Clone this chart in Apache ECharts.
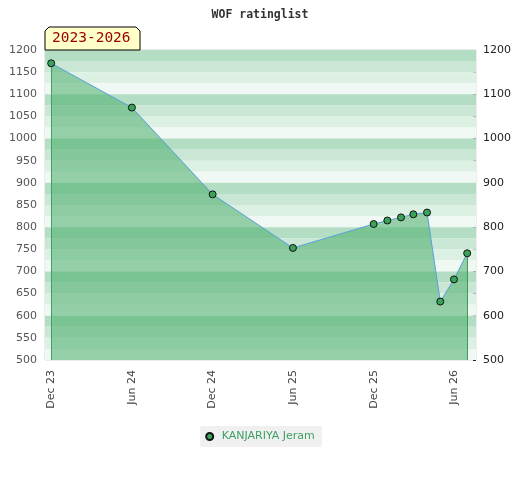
<!DOCTYPE html>
<html>
<head>
<meta charset="utf-8">
<script src="https://cdn.jsdelivr.net/npm/echarts@6/dist/echarts.min.js"></script>
<style>html,body{margin:0;padding:0;background:#fff}#c{width:520px;height:480px}</style>
</head>
<body>
<div id="c"></div>
<script>
// ---- data ----
const seriesName = 'KANJARIYA Jeram';
const dates = ['2023-12-01','2024-06-01','2024-12-01','2025-06-01','2025-12-01','2026-01-01','2026-02-01','2026-03-01','2026-04-01','2026-05-01','2026-06-01','2026-07-01'];
const ratings = [1170, 1070, 874, 753, 807, 815, 822, 829, 833, 632, 682, 741];
const xTickDates = ['2023-12-01','2024-06-01','2024-12-01','2025-06-01','2025-12-01','2026-06-01'];
const xTickLabels = ['Dec 23','Jun 24','Dec 24','Jun 25','Dec 25','Jun 26'];
const xRange = ['2023-11-17','2026-07-21'];
const yMin = 500, yMax = 1200;
const titleText = 'WOF ratinglist';
const periodText = '2023-2026';
const stripeColors = ['#b3dec4','#c9e7d4','#ddf0e4','#eff8f2'];

const ts = s => { const p = s.split('-').map(Number); return Date.UTC(p[0], p[1]-1, p[2]); };
const tickTs = xTickDates.map(ts);
const points = dates.map((d,i) => [ts(d), ratings[i]]);

const stripes = [];
for (let v = yMax, k = 0; v > yMin; v -= 25, k++) {
  stripes.push([{yAxis: v, itemStyle: {color: stripeColors[k % 4], opacity: 1}}, {yAxis: v - 25}]);
}

const chart = echarts.init(document.getElementById('c'), null, {renderer: 'canvas'});
chart.setOption({
  animation: false,
  title: {
    text: titleText, left: 'center', top: 4,
    textStyle: {fontFamily: 'DejaVu Sans Mono', fontWeight: 'bold', fontSize: 11.5, color: '#333'}
  },
  grid: {left: 45, right: 44, top: 50, bottom: 120, show: true, borderColor: '#d8d8d8', borderWidth: 1, backgroundColor: 'transparent'},
  xAxis: {
    type: 'value', min: ts(xRange[0]), max: ts(xRange[1]), scale: true,
    axisLine: {show: false}, axisTick: {show: false}, splitLine: {show: false},
    axisLabel: {
      customValues: tickTs, rotate: 90, color: '#444', fontFamily: 'DejaVu Sans', fontSize: 11, margin: 10,
      formatter: v => { const i = tickTs.indexOf(v); return i >= 0 ? xTickLabels[i] : ''; }
    }
  },
  yAxis: [
    {type: 'value', min: yMin, max: yMax, interval: 50, position: 'left',
     axisLine: {show: false}, axisTick: {show: false}, splitLine: {show: false},
     axisLabel: {color: '#555', fontFamily: 'DejaVu Sans', fontSize: 11, margin: 8, formatter: v => String(v)}},
    {type: 'value', min: yMin, max: yMax, interval: 100, position: 'right',
     axisLine: {show: false}, axisTick: {show: true, inside: true, length: 3, lineStyle: {color: '#222'}},
     minorTick: {show: true, splitNumber: 2, length: 3, lineStyle: {color: '#222'}},
     splitLine: {show: false},
     axisLabel: {color: '#222', fontFamily: 'DejaVu Sans', fontSize: 11, margin: 7, formatter: v => String(v)}}
  ],
  legend: {
    top: 426, left: 'center', data: [seriesName], icon: 'circle', itemWidth: 14, itemHeight: 7, itemGap: 6,
    backgroundColor: '#f0f0f0', padding: [5, 7, 5, 5],
    textStyle: {color: '#3fa065', fontFamily: 'DejaVu Sans', fontSize: 11}
  },
  graphic: [
    {type: 'polygon', z: 100, shape: {points: [[45,50],[45,31],[49,27],[136,27],[140,31],[140,50]]},
     style: {fill: '#ffffc8', stroke: '#000', lineWidth: 1}},
    {type: 'text', z: 101, left: 52, top: 31,
     style: {text: periodText, fill: '#990000', font: '14.5px "DejaVu Sans Mono"'}}
  ],
  series: [
    {type: 'line', data: [], z: 0, silent: true,
     markArea: {silent: true, data: stripes}},
    {name: seriesName, type: 'line', data: points, z: 5,
     symbol: 'circle', symbolSize: 7,
     itemStyle: {color: '#3aa35a', borderColor: '#111', borderWidth: 1},
     lineStyle: {color: '#5aa0dc', width: 1},
     areaStyle: {color: 'rgba(75,173,107,0.55)', opacity: 1, origin: 'start'},
     emphasis: {disabled: true},
     markLine: {silent: true, symbol: 'none', label: {show: false},
       lineStyle: {color: '#3a9a5a', width: 1, type: 'solid', opacity: 1},
       data: [
         [{coord: [points[0][0], yMin]}, {coord: points[0]}],
         [{coord: [points[points.length-1][0], yMin]}, {coord: points[points.length-1]}]
       ]}}
  ]
});
</script>
</body>
</html>
